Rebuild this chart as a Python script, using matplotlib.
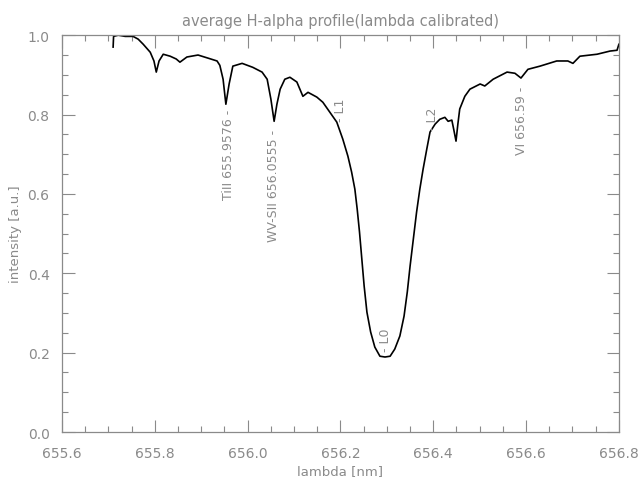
import matplotlib
matplotlib.use("Agg")
import matplotlib.pyplot as plt
from matplotlib.ticker import MultipleLocator

# wavelength [nm] and normalised intensity
lam = [655.710, 655.711, 655.721, 655.736, 655.753, 655.764, 655.775, 655.790,
       655.798, 655.803, 655.809, 655.818, 655.833, 655.846, 655.854, 655.869,
       655.893, 655.915, 655.934, 655.940, 655.947, 655.953, 655.960, 655.968,
       655.988, 656.011, 656.031, 656.042, 656.050, 656.057, 656.063, 656.070,
       656.080, 656.091, 656.106, 656.119, 656.130, 656.149, 656.162, 656.177,
       656.192, 656.205, 656.216, 656.224, 656.231, 656.236, 656.241, 656.246,
       656.251, 656.257, 656.265, 656.274, 656.285, 656.296, 656.307, 656.317,
       656.328, 656.337, 656.344, 656.350, 656.357, 656.364, 656.371, 656.378,
       656.386, 656.393, 656.404, 656.414, 656.425, 656.432, 656.440, 656.444,
       656.449, 656.453, 656.457, 656.468, 656.479, 656.501, 656.511, 656.529,
       656.559, 656.576, 656.589, 656.604, 656.630, 656.666, 656.690, 656.701,
       656.716, 656.753, 656.781, 656.796, 656.800]
intensity = [0.970, 0.997, 1.000, 0.997, 0.997, 0.990, 0.977, 0.957,
             0.935, 0.907, 0.935, 0.952, 0.947, 0.940, 0.932, 0.945,
             0.950, 0.942, 0.935, 0.924, 0.889, 0.826, 0.877, 0.922,
             0.929, 0.919, 0.907, 0.889, 0.839, 0.783, 0.826, 0.864,
             0.889, 0.894, 0.882, 0.846, 0.856, 0.844, 0.831, 0.806,
             0.781, 0.738, 0.695, 0.655, 0.612, 0.562, 0.504, 0.436,
             0.368, 0.302, 0.252, 0.214, 0.191, 0.189, 0.191, 0.209,
             0.242, 0.292, 0.353, 0.418, 0.486, 0.554, 0.612, 0.662,
             0.713, 0.756, 0.776, 0.788, 0.793, 0.783, 0.786, 0.763,
             0.733, 0.776, 0.814, 0.846, 0.864, 0.877, 0.872, 0.889,
             0.907, 0.904, 0.892, 0.914, 0.922, 0.935, 0.935, 0.929,
             0.947, 0.952, 0.960, 0.962, 0.977]

# line identifications (hanging below the curve)
line_labels = ["TiII 655.9576 -", "WV-SII 656.0555 -", "VI 656.59 -"]
line_x = [655.9576, 656.0555, 656.59]
line_y = [0.814, 0.763, 0.872]

# marker positions (sitting above the curve)
mark_labels = ["- L1", "- L2", "- L0"]
mark_x = [656.200, 656.398, 656.296]
mark_y = [0.783, 0.760, 0.204]

grey = "#8a8a8a"
plt.rcParams["font.family"] = "DejaVu Sans"

fig = plt.figure(figsize=(6.4, 4.89), dpi=100)
ax = fig.add_axes([0.097, 0.1145, 0.870, 0.8115])

ax.plot(lam, intensity, color="black", lw=1.2)

for txt, x, y in zip(line_labels, line_x, line_y):
    ax.text(x, y, txt, rotation=90, ha="center", va="top", fontsize=9, color=grey)
for txt, x, y in zip(mark_labels, mark_x, mark_y):
    ax.text(x, y, txt, rotation=90, ha="center", va="bottom", fontsize=9, color=grey)

ax.set_xlim(655.6, 656.8)
ax.set_ylim(0.0, 1.0)
ax.xaxis.set_major_locator(MultipleLocator(0.2))
ax.xaxis.set_minor_locator(MultipleLocator(0.05))
ax.yaxis.set_major_locator(MultipleLocator(0.2))
ax.yaxis.set_minor_locator(MultipleLocator(0.05))
ax.xaxis.set_major_formatter(plt.FormatStrFormatter("%.1f"))
ax.yaxis.set_major_formatter(plt.FormatStrFormatter("%.1f"))

ax.tick_params(which="both", direction="in", top=True, right=True, colors=grey,
               labelsize=10, width=0.8)
ax.tick_params(which="major", length=9)
ax.tick_params(which="minor", length=4.5)
ax.tick_params(axis="x", which="major", pad=10)
ax.tick_params(axis="y", which="major", pad=9)
for s in ax.spines.values():
    s.set_color(grey)
    s.set_linewidth(0.9)

ax.set_title("average H-alpha profile(lambda calibrated)", color=grey, fontsize=10.5, pad=7)
ax.set_xlabel("lambda [nm]", color=grey, fontsize=9.5, labelpad=3)
ax.set_ylabel("intensity [a.u.]", color=grey, fontsize=9.5)

fig.savefig("out.png", dpi=100)
